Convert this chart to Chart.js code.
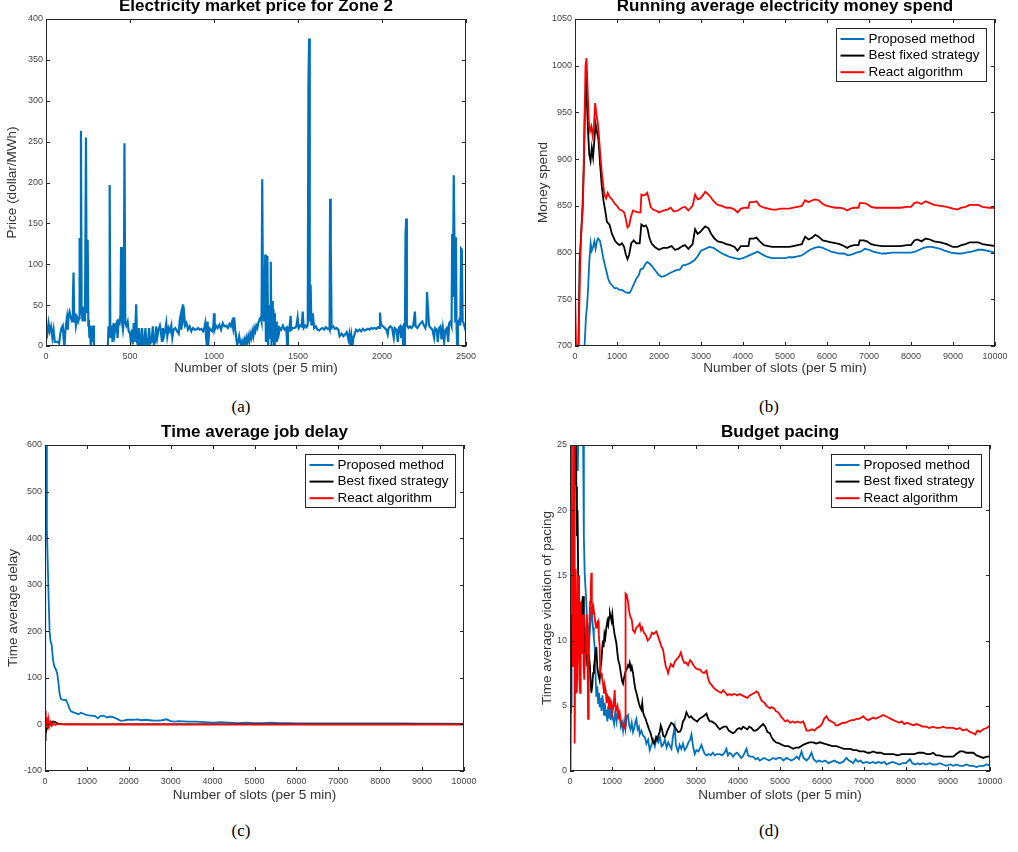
<!DOCTYPE html>
<html>
<head>
<meta charset="utf-8">
<script src="https://cdn.jsdelivr.net/npm/chart.js@4.4.1/dist/chart.umd.min.js"></script>
<style>
  body { margin: 0; background: #fff; width: 1018px; height: 852px; position: relative; overflow: hidden; }
  canvas { position: absolute; }
  .cap { position: absolute; font-family: "Liberation Serif", serif; font-size: 17px; line-height: 20px; color: #000; transform: translateX(-50%); }
</style>
</head>
<body>
<canvas id="chartA" width="509" height="385" style="left:0;top:0"></canvas>
<canvas id="chartB" width="498" height="385" style="left:520px;top:0"></canvas>
<canvas id="chartC" width="509" height="385" style="left:0;top:425px"></canvas>
<canvas id="chartD" width="498" height="385" style="left:520px;top:425px"></canvas>
<div class="cap" style="left:241px;top:397px">(a)</div>
<div class="cap" style="left:769px;top:397px">(b)</div>
<div class="cap" style="left:241px;top:821px">(c)</div>
<div class="cap" style="left:769px;top:821px">(d)</div>
<script>
// tick labels
const ticksSlotsA = [0, 500, 1000, 1500, 2000, 2500];
const ticksPriceA = [0, 50, 100, 150, 200, 250, 300, 350, 400];
const ticksSlots = [0, 1000, 2000, 3000, 4000, 5000, 6000, 7000, 8000, 9000, 10000];
const ticksMoney = [700, 750, 800, 850, 900, 950, 1000, 1050];
const ticksDelay = [-100, 0, 100, 200, 300, 400, 500, 600];
const ticksPacing = [0, 5, 10, 15, 20, 25];

const seriesNames = ["Proposed method", "Best fixed strategy", "React algorithm"];

// (a) electricity price, [slot, dollar/MWh]
const priceA = [[0,22],[8,15],[15,28],[22,18],[30,24],[38,10],[45,20],[52,5],[60,5],[70,5],[78,3],[85,15],[92,22],[100,25],[105,8],[110,0],[115,18],[120,28],[125,35],[130,20],[135,38],[140,42],[148,35],[155,30],[160,57],[164,90],[168,30],[172,40],[178,25],[185,35],[192,30],[197,34],[200,132],[204,40],[208,263],[212,45],[218,30],[225,48],[232,30],[238,255],[242,40],[248,130],[252,25],[255,32],[258,10],[262,25],[266,0],[270,20],[275,5],[280,25],[285,0],[290,0],[320,0],[340,0],[368,0],[372,24],[376,12],[379,197],[383,10],[390,25],[396,5],[402,28],[408,15],[414,25],[420,28],[426,10],[432,30],[438,28],[443,38],[447,121],[452,30],[458,20],[463,30],[467,248],[472,30],[478,25],[486,30],[492,18],[500,15],[505,5],[510,20],[516,2],[522,28],[528,5],[533,30],[537,51],[542,5],[548,0],[554,22],[560,3],[566,0],[572,22],[578,0],[585,3],[592,22],[598,0],[606,2],[614,22],[620,3],[628,5],[636,24],[642,2],[650,5],[656,24],[662,10],[670,20],[678,25],[684,18],[690,5],[696,22],[702,12],[710,20],[716,28],[722,12],[730,22],[738,18],[746,25],[752,10],[760,20],[770,22],[780,18],[790,15],[796,32],[802,38],[806,20],[810,44],[814,51],[818,35],[822,40],[828,25],[836,28],[845,20],[855,24],[865,18],[875,22],[885,20],[895,20],[905,22],[915,20],[925,21],[935,18],[942,22],[948,28],[953,10],[958,0],[962,30],[966,0],[972,22],[980,20],[990,18],[996,25],[1000,40],[1004,20],[1012,25],[1022,22],[1032,26],[1042,20],[1052,28],[1062,24],[1072,25],[1082,22],[1092,27],[1100,24],[1108,30],[1114,22],[1120,35],[1126,20],[1132,10],[1138,2],[1144,5],[1150,12],[1156,5],[1162,0],[1168,6],[1174,2],[1180,8],[1186,3],[1192,10],[1198,4],[1204,12],[1210,6],[1216,15],[1222,10],[1228,18],[1234,12],[1240,22],[1246,18],[1252,25],[1258,22],[1264,28],[1270,32],[1278,35],[1283,30],[1287,204],[1292,40],[1298,30],[1305,112],[1309,5],[1314,20],[1318,110],[1322,0],[1328,50],[1334,10],[1338,103],[1342,0],[1346,55],[1350,5],[1354,45],[1358,0],[1362,40],[1366,8],[1370,30],[1374,5],[1380,25],[1386,15],[1392,22],[1400,20],[1410,25],[1420,20],[1430,22],[1436,0],[1440,22],[1448,20],[1456,37],[1460,20],[1470,22],[1480,22],[1490,24],[1498,35],[1504,22],[1514,25],[1522,24],[1528,42],[1534,22],[1544,25],[1552,23],[1558,26],[1562,318],[1566,376],[1570,30],[1575,75],[1580,25],[1588,40],[1596,22],[1606,24],[1616,20],[1626,19],[1636,21],[1646,22],[1656,20],[1666,23],[1676,21],[1684,22],[1688,20],[1691,180],[1695,126],[1700,22],[1710,24],[1720,21],[1730,22],[1740,20],[1748,12],[1760,15],[1770,12],[1780,14],[1790,17],[1800,8],[1806,15],[1812,0],[1818,12],[1824,0],[1830,10],[1838,15],[1846,20],[1856,18],[1866,20],[1876,18],[1886,21],[1896,19],[1906,20],[1916,21],[1926,20],[1936,22],[1946,21],[1956,22],[1966,21],[1976,23],[1984,22],[1988,41],[1992,30],[1998,25],[2006,24],[2016,22],[2026,20],[2034,14],[2040,22],[2050,24],[2060,22],[2070,10],[2076,22],[2086,20],[2094,5],[2100,22],[2108,24],[2114,10],[2120,25],[2126,0],[2132,28],[2136,0],[2140,136],[2144,156],[2148,25],[2158,22],[2166,24],[2176,22],[2186,25],[2196,42],[2200,24],[2210,22],[2220,25],[2230,28],[2240,30],[2250,25],[2258,22],[2264,28],[2268,66],[2274,45],[2280,25],[2290,22],[2300,20],[2310,10],[2316,22],[2326,20],[2332,5],[2340,22],[2348,24],[2354,8],[2362,22],[2370,5],[2378,20],[2386,22],[2394,5],[2400,28],[2408,30],[2414,25],[2418,137],[2422,60],[2427,209],[2431,135],[2436,30],[2440,133],[2444,20],[2448,0],[2452,28],[2460,32],[2466,25],[2471,119],[2475,118],[2480,30],[2486,28],[2494,22],[2500,25]];

// (b) running average money spend, [slot, value]
const proposedB = [[0,640],[150,650],[230,702],[260,730],[290,745],[310,760],[340,790],[373,810],[400,802],[430,806],[460,812],[490,804],[520,812],[550,815],[590,813],[630,805],[669,795],[710,787],[748,780],[790,772],[827,768],[880,765],[940,762],[1000,762],[1060,760],[1120,760],[1180,758],[1240,757],[1300,757],[1340,760],[1400,766],[1460,772],[1520,776],[1560,782],[1620,783],[1680,788],[1720,790],[1780,788],[1860,784],[1940,779],[2000,776],[2060,774],[2140,775],[2220,777],[2300,779],[2400,781],[2500,782],[2560,786],[2650,787],[2750,789],[2850,792],[2920,796],[3000,802],[3100,804],[3200,806],[3300,805],[3400,802],[3500,799],[3600,797],[3700,795],[3800,794],[3900,793],[4000,794],[4100,796],[4200,798],[4300,800],[4350,801],[4420,799],[4500,797],[4600,795],[4700,794],[4800,794],[4900,794],[5000,794],[5100,795],[5200,795],[5300,796],[5400,797],[5500,800],[5600,803],[5700,805],[5800,806],[5900,805],[6000,803],[6100,801],[6200,800],[6300,799],[6400,799],[6500,797],[6600,798],[6700,800],[6800,801],[6900,804],[7000,803],[7100,801],[7200,800],[7300,799],[7400,799],[7550,800],[7700,800],[7850,800],[8000,800],[8100,801],[8200,803],[8300,805],[8400,806],[8500,806],[8600,805],[8700,804],[8800,802],[8950,800],[9100,799],[9200,799],[9300,800],[9450,801],[9600,803],[9700,803],[9800,802],[9900,801],[10000,800]];
const fixedB = [[40,680],[80,690],[110,790],[140,815],[180,850],[215,900],[240,965],[260,990],[285,960],[310,930],[340,905],[370,898],[400,912],[430,902],[460,920],[490,938],[520,930],[560,920],[600,893],[640,870],[680,855],[720,845],[760,833],[820,830],[880,820],[950,813],[1000,810],[1060,808],[1120,810],[1170,806],[1210,798],[1250,793],[1290,798],[1340,810],[1400,813],[1460,810],[1540,810],[1580,830],[1640,828],[1690,829],[1730,825],[1770,816],[1820,810],[1900,806],[2000,803],[2100,805],[2200,805],[2300,807],[2380,803],[2460,804],[2560,807],[2620,808],[2700,804],[2800,809],[2860,825],[2920,820],[2980,822],[3040,825],[3100,828],[3180,826],[3240,820],[3320,815],[3400,812],[3500,811],[3600,809],[3700,808],[3800,806],[3870,802],[3950,807],[4050,807],[4130,807],[4160,815],[4250,815],[4320,816],[4400,812],[4500,808],[4600,807],[4700,806],[4800,806],[4900,806],[5000,806],[5100,806],[5200,807],[5300,808],[5400,809],[5480,817],[5560,814],[5650,816],[5720,819],[5800,817],[5900,813],[6000,812],[6100,811],[6200,810],[6300,809],[6400,807],[6480,805],[6560,807],[6650,808],[6750,808],[6780,813],[6880,813],[6950,812],[7050,809],[7150,808],[7300,807],[7450,807],[7600,807],[7750,807],[7900,808],[8000,808],[8080,813],[8150,814],[8250,812],[8350,815],[8450,814],[8550,812],[8700,811],[8850,809],[9000,806],[9100,806],[9200,808],[9300,809],[9400,811],[9500,811],[9600,811],[9700,809],[9850,808],[10000,807]];
const reactB = [[0,765],[25,700],[40,690],[80,690],[110,760],[130,800],[160,830],[190,850],[220,925],[250,1000],[275,1008],[300,975],[330,940],[360,930],[390,935],[420,925],[450,935],[480,960],[510,948],[540,940],[570,925],[610,900],[650,880],[700,862],[740,858],[780,864],[820,860],[880,857],[950,852],[1000,850],[1060,846],[1120,845],[1170,843],[1210,836],[1250,827],[1290,829],[1330,838],[1380,845],[1430,844],[1500,843],[1560,843],[1580,862],[1630,861],[1680,862],[1720,864],[1760,857],[1800,849],[1860,846],[1920,845],[2000,843],[2100,845],[2200,846],[2280,848],[2350,844],[2450,845],[2550,848],[2620,849],[2700,845],[2800,850],[2860,862],[2920,857],[2980,858],[3040,861],[3100,865],[3160,863],[3220,860],[3300,855],[3400,851],[3500,850],[3600,848],[3700,848],[3800,846],[3870,843],[3950,847],[4050,848],[4130,848],[4160,854],[4250,854],[4320,855],[4400,850],[4500,848],[4600,847],[4700,846],[4800,846],[4900,847],[5000,847],[5100,847],[5200,848],[5300,849],[5400,850],[5480,856],[5560,854],[5650,856],[5720,857],[5800,856],[5900,852],[6000,850],[6100,849],[6200,848],[6300,848],[6400,847],[6480,845],[6560,847],[6650,848],[6750,848],[6780,853],[6880,853],[6950,852],[7050,849],[7150,848],[7300,848],[7450,848],[7600,848],[7750,848],[7900,849],[8000,849],[8080,853],[8150,854],[8250,852],[8350,855],[8450,853],[8550,851],[8700,850],[8850,849],[9000,847],[9100,846],[9200,848],[9300,849],[9400,851],[9500,851],[9600,851],[9700,849],[9850,848],[10000,848]];

// (c) time average job delay, [slot, value]
const proposedC = [[0,10],[5,600],[25,600],[45,420],[70,330],[90,260],[110,200],[130,180],[160,170],[190,140],[220,125],[260,118],[290,110],[320,90],[350,65],[380,55],[420,53],[460,52],[500,53],[540,45],[580,35],[620,28],[680,26],[740,24],[800,22],[860,25],[920,23],[1000,20],[1100,19],[1200,18],[1260,13],[1320,18],[1400,19],[1480,15],[1560,17],[1640,15],[1720,12],[1800,8],[1880,8],[1960,10],[2100,10],[2200,11],[2300,9],[2400,10],[2500,9],[2600,8],[2700,8],[2800,9],[2900,11],[3000,7],[3100,6],[3200,7],[3400,6],[3600,6],[3800,5],[4000,4],[4200,5],[4400,4],[4600,3],[4800,4],[5000,3],[5200,3],[5400,4],[5600,3],[5800,3],[6000,2],[6500,2],[7000,2],[7500,2],[8000,2],[8500,2],[9000,1.5],[9500,1.5],[10000,1]];
const fixedC = [[0,-5],[10,-35],[20,-20],[40,-10],[70,-5],[100,-2],[140,3],[180,6],[220,6],[260,4],[300,2],[350,1],[400,0.5],[500,0],[1000,0],[2000,0.3],[5000,0.2],[10000,0.1]];
const reactC = [[0,30],[10,5],[20,25],[30,-5],[45,15],[60,-8],[80,10],[100,-5],[130,5],[160,-3],[200,2],[250,-1],[300,1],[400,0],[700,0.5],[1000,0],[5000,0],[10000,0]];

// (d) budget pacing violation, [slot, value]
const proposedD = [[0,0],[15,1],[25,5],[35,25],[40,30],[150,30],[170,25],[185,23],[200,26],[230,25],[260,28],[290,30],[310,26],[330,18],[349,15.2],[370,14],[389,12.9],[410,11],[429,9.8],[450,10.8],[469,10.5],[490,11.5],[508,12.6],[528,11.8],[548,11],[568,10.2],[588,9.5],[607,7.5],[627,5.7],[650,6.5],[670,5.2],[690,6],[707,4.9],[730,5.6],[750,4.6],[770,5.8],[786,5.4],[810,4.3],[830,5.2],[850,4.4],[866,4.5],[890,3.8],[910,5],[930,4.1],[945,5],[970,3.9],[990,4.6],[1024,4],[1050,3.6],[1080,4.6],[1110,3.8],[1140,4.5],[1183,4.2],[1210,3.4],[1240,3.7],[1263,3.1],[1290,3.8],[1320,3.2],[1350,4.2],[1382,4.3],[1410,3.5],[1440,3.2],[1470,3.7],[1501,3.0],[1530,3.3],[1560,3.8],[1581,4.0],[1610,3.2],[1640,3.4],[1660,2.8],[1700,3.1],[1740,2.7],[1780,2.6],[1819,2.1],[1860,2.4],[1898,1.6],[1940,2.0],[1980,2.4],[2020,1.9],[2057,2.5],[2100,2.2],[2140,2.6],[2180,1.9],[2216,2.0],[2260,2.4],[2300,1.8],[2340,2.2],[2380,1.9],[2415,1.7],[2450,2.6],[2494,3.4],[2520,2.0],[2550,1.7],[2573,1.5],[2610,2.0],[2650,1.7],[2690,2.1],[2730,1.6],[2772,1.8],[2820,2.2],[2860,2.4],[2891,2.8],[2930,1.9],[2971,1.3],[3010,1.6],[3060,1.5],[3100,1.8],[3130,2.0],[3170,1.6],[3210,1.3],[3249,1.2],[3300,1.3],[3350,1.2],[3400,1.4],[3450,1.2],[3500,1.3],[3566,1.3],[3620,1.2],[3680,1.4],[3725,1.7],[3760,1.2],[3800,1.4],[3840,1.3],[3884,1.1],[3930,1.3],[3980,1.4],[4030,1.2],[4080,1.0],[4130,1.2],[4202,1.7],[4240,1.2],[4290,1.1],[4360,1.1],[4420,0.9],[4470,1.0],[4519,0.8],[4570,0.9],[4620,1.0],[4680,0.9],[4740,0.8],[4790,0.9],[4837,1.0],[4900,0.9],[4960,1.0],[5020,1.0],[5080,0.8],[5155,1.0],[5210,0.9],[5270,0.8],[5330,0.9],[5400,1.1],[5450,0.9],[5512,1.5],[5560,1.0],[5600,0.9],[5631,0.8],[5690,1.0],[5750,1.4],[5800,0.9],[5870,0.7],[5930,0.8],[6000,0.7],[6080,0.8],[6150,0.6],[6220,0.7],[6300,0.8],[6346,0.7],[6420,0.6],[6500,0.7],[6584,1.0],[6640,0.8],[6700,0.7],[6743,0.6],[6800,0.9],[6860,0.7],[6920,0.8],[6980,0.6],[7050,0.7],[7141,0.6],[7200,0.7],[7280,0.6],[7350,0.7],[7420,0.6],[7480,0.7],[7538,0.5],[7600,0.6],[7680,0.7],[7760,0.6],[7840,0.5],[7920,0.6],[8000,0.6],[8094,0.9],[8150,0.6],[8220,0.5],[8280,0.6],[8332,0.5],[8400,0.6],[8480,0.5],[8560,0.6],[8650,0.5],[8729,0.5],[8800,0.6],[8880,0.5],[8960,0.4],[9050,0.5],[9126,0.4],[9200,0.5],[9280,0.4],[9360,0.4],[9444,0.5],[9520,0.4],[9600,0.4],[9682,0.3],[9760,0.4],[9850,0.4],[9920,0.5],[10000,0.4]];
const fixedD = [[0,4.5],[15,5],[25,12],[40,8],[55,14],[70,10],[85,18],[100,22],[115,25],[125,30],[140,25],[151,21.8],[165,18],[180,20],[195,15],[210,12],[230,12],[250,9],[270,11],[290,13],[310,13.4],[330,11],[350,9],[370,10.5],[389,9.5],[410,8],[430,9],[450,8.8],[469,8.3],[490,7],[508,6],[530,6.5],[550,7.5],[570,8],[588,8.5],[607,9],[627,9.5],[650,8],[670,7.5],[690,7.2],[707,7],[730,8],[750,8.5],[770,9.5],[786,10],[800,9.5],[820,10.5],[840,10.2],[866,11],[890,11.5],[910,11.2],[930,11.8],[950,12.1],[970,11.8],[990,11.5],[1008,12],[1030,11.2],[1060,10.5],[1080,10.2],[1104,9.8],[1130,9],[1150,8.5],[1183,8.1],[1210,7.5],[1240,6.9],[1263,6.7],[1290,7.2],[1320,7.6],[1350,7.8],[1380,8.1],[1400,8.0],[1422,8.3],[1450,7.8],[1470,8.0],[1501,7.5],[1530,6.8],[1560,6.2],[1581,6.0],[1610,5.6],[1640,5.2],[1670,4.9],[1700,4.7],[1720,5.2],[1740,4.5],[1770,4.2],[1800,4.0],[1819,3.8],[1850,3.5],[1880,3.2],[1920,2.9],[1950,2.5],[1978,2.2],[2010,2.1],[2050,2.6],[2080,2.4],[2110,2.8],[2137,3.0],[2160,3.5],[2190,3.2],[2220,2.7],[2256,2.6],[2290,2.8],[2320,3.1],[2350,3.3],[2380,3.5],[2410,3.7],[2454,3.6],[2490,3.4],[2530,3.2],[2570,3.0],[2613,3.0],[2650,3.2],[2690,3.8],[2730,4.0],[2772,4.5],[2800,4.3],[2840,4.1],[2880,4.2],[2931,4.0],[2980,3.9],[3030,3.8],[3080,4.0],[3130,4.1],[3180,4.2],[3249,4.4],[3290,4.0],[3330,3.8],[3380,3.8],[3420,3.7],[3470,3.6],[3510,3.4],[3566,3.2],[3610,3.3],[3660,3.4],[3725,3.4],[3780,3.1],[3830,3.0],[3884,2.9],[3930,3.0],[3980,3.2],[4030,3.3],[4080,3.2],[4122,3.4],[4170,3.3],[4220,3.2],[4270,3.4],[4320,3.3],[4370,3.1],[4420,3.1],[4470,3.2],[4530,3.4],[4599,3.6],[4650,3.4],[4700,3.0],[4758,2.9],[4800,2.6],[4837,2.4],[4900,2.2],[4996,2.1],[5050,2.0],[5120,1.9],[5200,1.9],[5260,1.8],[5314,1.7],[5380,1.8],[5450,1.8],[5500,1.9],[5552,2.0],[5620,2.1],[5700,2.2],[5790,2.2],[5860,2.1],[5950,2.2],[6050,2.1],[6150,2.0],[6250,1.9],[6346,1.9],[6430,1.8],[6520,1.7],[6600,1.7],[6680,1.7],[6743,1.6],[6820,1.6],[6900,1.5],[7000,1.5],[7080,1.4],[7141,1.4],[7220,1.5],[7300,1.4],[7400,1.4],[7480,1.3],[7538,1.3],[7620,1.3],[7700,1.3],[7800,1.2],[7900,1.3],[8000,1.3],[8100,1.3],[8200,1.3],[8300,1.4],[8400,1.4],[8500,1.3],[8580,1.3],[8650,1.4],[8720,1.2],[8800,1.2],[8900,1.1],[9000,1.1],[9060,1.1],[9126,1.1],[9200,1.3],[9285,1.5],[9360,1.5],[9440,1.4],[9520,1.4],[9603,1.4],[9680,1.2],[9760,1.1],[9841,1.0],[9920,1.1],[10000,1.1]];
const reactD = [[0,30],[10,18],[20,12],[30,25],[40,26],[50,14],[60,8],[70,20],[80,15],[90,28],[100,25],[110,2.1],[120,6],[130,8],[140,15.5],[150,12],[165,6],[180,10.5],[195,15],[210,11],[225,7],[240,6],[255,13],[270,10],[290,9],[310,12],[325,8],[340,7],[360,9],[380,11],[400,12],[420,9],[430,4],[445,8],[460,11],[480,13],[495,14],[508,15.2],[520,13],[540,12],[560,12.5],[580,12],[600,11.5],[620,11],[640,11.3],[667,11.5],[685,10.5],[707,9.5],[720,7.5],[740,7.5],[760,7.2],[786,6.7],[810,6],[830,6.5],[850,6.2],[870,5.2],[890,5.8],[906,5.7],[930,4.8],[950,5.5],[985,5.3],[1010,4.5],[1040,5.1],[1064,6.2],[1080,5],[1100,4.7],[1130,5],[1160,4.2],[1183,4.5],[1210,3.9],[1240,3.6],[1270,3.4],[1300,3.3],[1310,3.5],[1320,13.0],[1326,13.6],[1350,13.5],[1380,13],[1410,12.2],[1440,11.8],[1470,11.6],[1500,10.8],[1541,10.6],[1580,11.0],[1620,11.1],[1660,11.3],[1690,10.8],[1720,11.0],[1760,10.6],[1790,10.5],[1819,10.3],[1850,10.0],[1880,10.1],[1920,10.3],[1950,10.6],[1990,10.5],[2020,10.6],[2057,10.7],[2090,10.4],[2130,10.0],[2170,9.6],[2216,9.3],[2250,8.6],[2280,8.0],[2310,7.8],[2335,7.5],[2370,7.9],[2400,8.2],[2454,8.0],[2500,8.4],[2550,8.6],[2600,8.8],[2640,9.1],[2680,8.6],[2720,8.3],[2772,8.3],[2810,8.1],[2860,8.5],[2891,8.4],[2940,8.1],[2990,7.9],[3040,7.8],[3090,7.8],[3140,7.6],[3190,7.5],[3249,7.7],[3280,7.2],[3320,6.8],[3368,6.6],[3420,6.4],[3487,6.2],[3540,6.1],[3600,6.0],[3650,6.2],[3700,6.0],[3750,5.8],[3800,5.9],[3850,5.8],[3884,5.9],[3930,5.9],[3980,5.8],[4040,5.9],[4100,5.8],[4160,5.7],[4220,5.6],[4280,5.8],[4340,5.9],[4400,6.0],[4440,6.1],[4480,6.0],[4520,5.7],[4560,5.4],[4600,5.3],[4640,5.2],[4678,5.0],[4720,4.9],[4760,4.8],[4800,4.9],[4860,4.8],[4900,4.6],[4956,4.5],[5000,4.3],[5040,4.1],[5075,4.0],[5120,3.8],[5180,3.9],[5240,3.7],[5300,3.8],[5360,3.7],[5420,3.8],[5480,3.7],[5552,3.8],[5600,3.4],[5631,3.1],[5700,3.1],[5760,3.2],[5820,3.1],[5880,3.3],[5940,3.4],[6000,3.6],[6050,4.0],[6108,4.2],[6160,3.9],[6220,3.8],[6280,3.7],[6330,3.5],[6380,3.5],[6430,3.6],[6500,3.7],[6560,3.7],[6620,3.8],[6700,3.9],[6760,3.9],[6820,4.0],[6880,4.0],[6940,4.1],[6982,4.2],[7040,4.0],[7100,3.9],[7160,4.0],[7220,4.1],[7280,4.0],[7340,4.1],[7400,4.2],[7458,4.3],[7520,4.2],[7580,4.1],[7640,4.0],[7700,3.9],[7776,3.8],[7840,3.7],[7900,3.8],[7960,3.6],[8020,3.7],[8100,3.6],[8180,3.5],[8250,3.6],[8332,3.5],[8400,3.4],[8480,3.4],[8560,3.3],[8640,3.4],[8720,3.3],[8800,3.3],[8880,3.4],[8960,3.3],[9040,3.3],[9126,3.3],[9200,3.2],[9280,3.3],[9360,3.1],[9440,3.2],[9520,3.0],[9603,2.9],[9650,2.8],[9700,3.1],[9760,3.0],[9841,3.2],[9920,3.3],[10000,3.5]];

const BLUE = "#0072BD", BLACK = "#000000", RED = "#FF0000";

Chart.defaults.font.family = '"Liberation Sans", Arial, sans-serif';

// box, inward ticks on all sides, bold title and boxed legend, like a MATLAB axes
const matlabAxes = {
    id: "matlabAxes",
    afterDatasetsDraw(chart, args, opts) {
        const ctx = chart.ctx;
        const a = chart.chartArea;
        const sx = chart.scales.x, sy = chart.scales.y;
        ctx.save();
        ctx.strokeStyle = "#262626";
        ctx.lineWidth = 1;
        ctx.beginPath();
        sx.ticks.forEach(t => {
            const px = Math.round(sx.getPixelForValue(t.value)) + 0.5;
            ctx.moveTo(px, a.bottom); ctx.lineTo(px, a.bottom - 4);
            ctx.moveTo(px, a.top); ctx.lineTo(px, a.top + 4);
        });
        sy.ticks.forEach(t => {
            const py = Math.round(sy.getPixelForValue(t.value)) + 0.5;
            ctx.moveTo(a.left, py); ctx.lineTo(a.left + 4, py);
            ctx.moveTo(a.right, py); ctx.lineTo(a.right - 4, py);
        });
        ctx.stroke();
        ctx.strokeRect(Math.round(a.left) + 0.5, Math.round(a.top) + 0.5, Math.round(a.width) - 1, Math.round(a.height) - 1);

        ctx.fillStyle = "#000";
        ctx.font = 'bold 17px "Liberation Sans", Arial, sans-serif';
        ctx.textAlign = "center";
        ctx.textBaseline = "middle";
        ctx.fillText(opts.title, (a.left + a.right) / 2, a.top - 13);

        if (opts.legend) {
            const w = 150, h = 53;
            const bx = Math.round(a.right - 9 - w) + 0.5, by = Math.round(a.top + 9) + 0.5;
            ctx.fillStyle = "#fff";
            ctx.fillRect(bx, by, w, h);
            ctx.strokeStyle = "#262626";
            ctx.lineWidth = 1;
            ctx.strokeRect(bx, by, w, h);
            ctx.font = '13.5px "Liberation Sans", Arial, sans-serif';
            ctx.textAlign = "left";
            chart.data.datasets.forEach((ds, i) => {
                const ry = by + 10.5 + i * 16.6;
                ctx.strokeStyle = ds.borderColor;
                ctx.lineWidth = 2;
                ctx.beginPath();
                ctx.moveTo(bx + 4, ry); ctx.lineTo(bx + 28, ry);
                ctx.stroke();
                ctx.fillStyle = "#000";
                ctx.fillText(ds.label, bx + 32, ry);
            });
        }
        ctx.restore();
    }
};

function makePanel(id, p) {
    return new Chart(document.getElementById(id), {
        type: "line",
        data: {
            datasets: p.series.map(s => ({
                label: s.label,
                data: s.points.map(pt => ({ x: pt[0], y: pt[1] })),
                borderColor: s.color,
                borderWidth: s.width,
                pointRadius: 0,
                tension: 0,
                fill: false,
                order: s.order
            }))
        },
        options: {
            responsive: false,
            animation: false,
            events: [],
            layout: { padding: p.pad },
            plugins: {
                legend: { display: false },
                tooltip: { enabled: false },
                matlabAxes: { title: p.title, legend: p.legend }
            },
            scales: {
                x: {
                    type: "linear",
                    min: p.xTicks[0],
                    max: p.xTicks[p.xTicks.length - 1],
                    afterBuildTicks: sc => { sc.ticks = p.xTicks.map(v => ({ value: v })); },
                    afterFit: sc => { sc.height = p.xHeight; },
                    grid: { display: false, drawTicks: false },
                    border: { display: false },
                    ticks: { font: { size: 9 }, color: "#444", padding: 5, maxRotation: 0, autoSkip: false, callback: v => String(v) },
                    title: { display: true, text: "Number of slots (per 5 min)", color: "#333", font: { size: 13.5 }, padding: { top: 0, bottom: p.xTitlePad } }
                },
                y: {
                    type: "linear",
                    min: p.yTicks[0],
                    max: p.yTicks[p.yTicks.length - 1],
                    afterBuildTicks: sc => { sc.ticks = p.yTicks.map(v => ({ value: v })); },
                    afterFit: sc => { sc.width = p.yWidth; },
                    grid: { display: false, drawTicks: false },
                    border: { display: false },
                    ticks: { font: { size: 9 }, color: "#444", padding: 3, autoSkip: false, callback: v => String(v) },
                    title: { display: true, text: p.yTitle, color: "#333", font: { size: 13.5 }, padding: { top: p.yTitlePad, bottom: 0 } }
                }
            }
        },
        plugins: [matlabAxes]
    });
}

function threeSeries(blue, black, red) {
    return [
        { label: seriesNames[0], points: blue, color: BLUE, width: 1.8, order: 3 },
        { label: seriesNames[1], points: black, color: BLACK, width: 1.8, order: 2 },
        { label: seriesNames[2], points: red, color: RED, width: 1.8, order: 1 }
    ];
}

makePanel("chartA", {
    title: "Electricity market price for Zone 2",
    yTitle: "Price (dollar/MWh)",
    xTicks: ticksSlotsA, yTicks: ticksPriceA,
    pad: { left: 0, top: 19, right: 43, bottom: 0 },
    yWidth: 46, xHeight: 39, yTitlePad: 4, xTitlePad: 9,
    legend: false,
    series: [{ label: "Price", points: priceA, color: BLUE, width: 2.2, order: 1 }]
});

makePanel("chartB", {
    title: "Running average electricity money spend",
    yTitle: "Money spend",
    xTicks: ticksSlots, yTicks: ticksMoney,
    pad: { left: 0, top: 19, right: 23, bottom: 0 },
    yWidth: 55, xHeight: 39, yTitlePad: 15, xTitlePad: 9,
    legend: true,
    series: threeSeries(proposedB, fixedB, reactB)
});

makePanel("chartC", {
    title: "Time average job delay",
    yTitle: "Time average delay",
    xTicks: ticksSlots, yTicks: ticksDelay,
    pad: { left: 0, top: 20, right: 45, bottom: 0 },
    yWidth: 45, xHeight: 39, yTitlePad: 5, xTitlePad: 7,
    legend: true,
    series: threeSeries(proposedC, fixedC, reactC)
});

makePanel("chartD", {
    title: "Budget pacing",
    yTitle: "Time average violation of pacing",
    xTicks: ticksSlots, yTicks: ticksPacing,
    pad: { left: 0, top: 20, right: 28, bottom: 0 },
    yWidth: 50, xHeight: 39, yTitlePad: 19, xTitlePad: 7,
    legend: true,
    series: threeSeries(proposedD, fixedD, reactD)
});
</script>
</body>
</html>
